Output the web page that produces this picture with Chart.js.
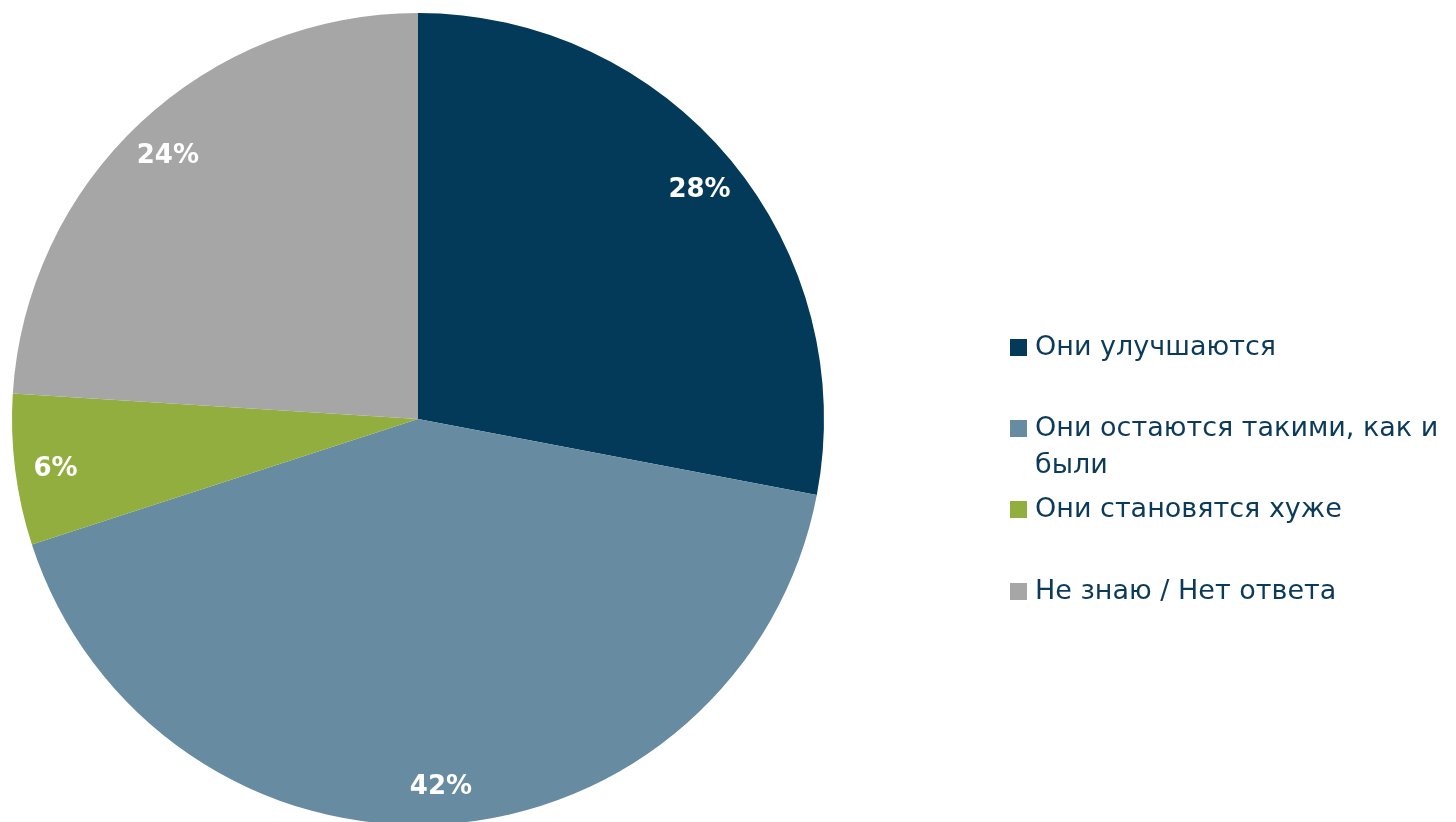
<!DOCTYPE html>
<html lang="ru">
  <head>
    <meta charset="UTF-8" />
    <title>Pie</title>
    <style>
      * { margin: 0; padding: 0; }
      body { width: 1456px; height: 822px; overflow: hidden; background: #fff; }
      .chartBox { position: absolute; left: 0; top: 0; width: 1456px; height: 838px; }
    </style>
  </head>
  <body>
    <div class="chartBox"><canvas id="myChart"></canvas></div>

    <script src="https://cdn.jsdelivr.net/npm/chart.js"></script>
    <script>
      // data block
      const labels = [
        ["Они улучшаются"],
        ["Они остаются такими, как и", "были"],
        ["Они становятся хуже"],
        ["Не знаю / Нет ответа"]
      ];
      const values = [28, 42, 6, 24];
      const colors = ["#033A5A", "#678BA0", "#92AE3E", "#A6A6A6"];

      const FONT = "'DejaVu Sans', sans-serif";

      // slice labels near the outer edge
      const sliceLabels = {
        id: "sliceLabels",
        afterDatasetsDraw(chart) {
          const { ctx } = chart;
          const meta = chart.getDatasetMeta(0);
          ctx.save();
          ctx.fillStyle = "#fff";
          ctx.font = "bold 26px " + FONT;
          ctx.textAlign = "center";
          ctx.textBaseline = "middle";
          meta.data.forEach((arc, i) => {
            const mid = (arc.startAngle + arc.endAngle) / 2;
            const r = arc.outerRadius * 0.9;
            ctx.fillText(values[i] + "%", arc.x + Math.cos(mid) * r, arc.y + Math.sin(mid) * r + 4);
          });
          ctx.restore();
        }
      };

      // legend on the right
      const sideLegend = {
        id: "sideLegend",
        afterDraw(chart) {
          const { ctx } = chart;
          const rows = [347, 428, 509, 591];
          ctx.save();
          ctx.font = "27px " + FONT;
          ctx.textBaseline = "middle";
          ctx.textAlign = "left";
          labels.forEach((lines, i) => {
            ctx.fillStyle = colors[i];
            ctx.fillRect(1010, rows[i] - 8, 17, 17);
            ctx.fillStyle = "#0B3A5A";
            lines.forEach((t, j) => ctx.fillText(t, 1035, rows[i] + 1 + j * 37));
          });
          ctx.restore();
        }
      };

      const config = {
        type: "pie",
        data: {
          labels: labels.map(l => l.join(" ")),
          datasets: [{
            data: values,
            backgroundColor: colors,
            borderWidth: 0
          }]
        },
        options: {
          responsive: true,
          maintainAspectRatio: false,
          animation: false,
          layout: { padding: { left: 12, right: 632, top: 13, bottom: 13 } },
          plugins: {
            legend: { display: false },
            tooltip: { enabled: false }
          }
        },
        plugins: [sliceLabels, sideLegend]
      };

      const myChart = new Chart(document.getElementById("myChart"), config);
    </script>
  </body>
</html>
